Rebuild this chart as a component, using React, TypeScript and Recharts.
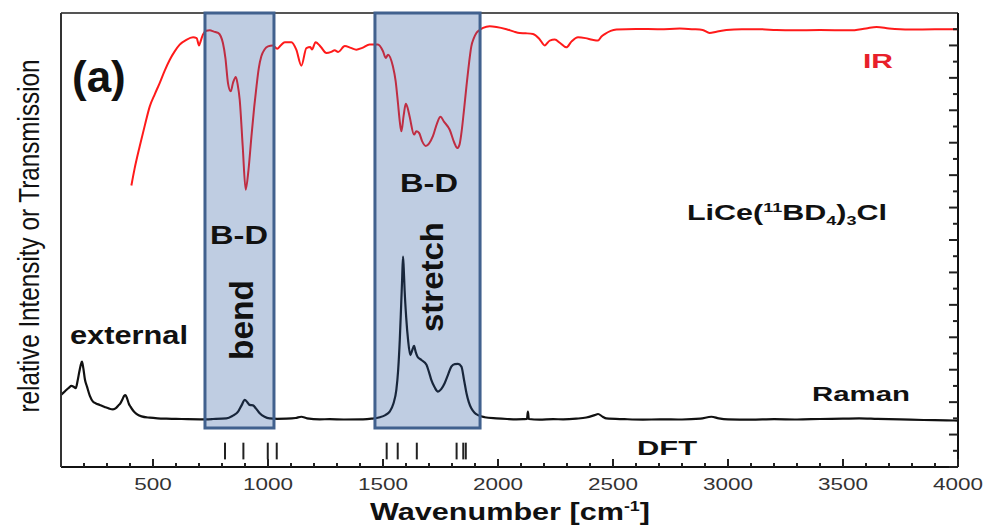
import React from 'react';
import { LineChart, Line, XAxis, YAxis, ReferenceArea, ReferenceLine } from 'recharts';

// IR transmission (red), wavenumber in cm-1 and relative level
const irWave = [406, 420, 442, 465, 486, 508, 529, 551, 573, 595, 616, 645, 674, 690, 700, 708, 717, 732, 747, 765, 783, 795, 804, 815, 826, 838, 848, 860, 868, 877, 890, 903, 915, 928, 940, 950, 960, 971, 985, 1000, 1020, 1040, 1055, 1073, 1102, 1123, 1145, 1167, 1184, 1191, 1207, 1230, 1254, 1275, 1290, 1305, 1334, 1360, 1384, 1410, 1442, 1478, 1500, 1512, 1522, 1543, 1555, 1565, 1573, 1580, 1590, 1599, 1608, 1616, 1635, 1645, 1657, 1670, 1686, 1700, 1717, 1735, 1750, 1765, 1790, 1810, 1823, 1833, 1841, 1852, 1863, 1874, 1884, 1895, 1906, 1920, 1935, 1964, 1993, 2037, 2070, 2094, 2120, 2152, 2180, 2203, 2225, 2247, 2270, 2297, 2320, 2348, 2380, 2410, 2435, 2450, 2464, 2490, 2515, 2600, 2703, 2790, 2848, 2890, 2920, 2950, 2993, 3060, 3138, 3210, 3283, 3400, 3530, 3600, 3646, 3700, 3790, 3900, 4000];
const irValue = [17.36, 18.4, 19.77, 21.1, 22.24, 23.0, 23.68, 24.45, 25.12, 25.65, 26.05, 26.35, 26.5, 26.45, 26.0, 26.3, 26.67, 26.9, 26.93, 26.85, 26.77, 26.55, 26.15, 25.2, 23.68, 23.17, 23.7, 24.06, 23.6, 22.65, 19.8, 17.1, 18.3, 20.39, 22.2, 23.48, 24.6, 25.33, 25.75, 25.94, 26.0, 25.8, 26.0, 26.2, 26.2, 25.74, 24.75, 25.84, 25.9, 25.75, 26.2, 25.9, 25.53, 25.6, 25.7, 25.6, 25.96, 25.85, 25.74, 25.85, 26.05, 26.05, 25.64, 25.23, 25.43, 24.71, 23.8, 22.45, 21.3, 20.7, 21.7, 22.4, 22.1, 21.6, 20.5, 20.7, 20.6, 20.1, 19.8, 19.95, 20.4, 21.2, 21.6, 21.3, 20.8, 20.0, 19.67, 19.9, 20.6, 22.0, 23.5, 24.9, 25.94, 26.45, 26.77, 26.95, 27.08, 27.18, 27.14, 27.0, 26.85, 26.77, 26.75, 26.7, 26.4, 26.0, 26.3, 26.36, 26.15, 25.88, 26.25, 26.5, 26.45, 26.35, 26.3, 26.55, 26.7, 26.9, 26.98, 27.02, 27.0, 27.04, 27.0, 26.95, 26.77, 26.85, 26.95, 27.0, 27.0, 26.95, 26.93, 26.95, 26.93, 27.05, 27.14, 27.05, 26.98, 27.0, 27.0];

// Raman intensity (black)
const ramanWave = [100, 112, 123, 135, 145, 155, 164, 172, 180, 186, 191, 197, 204, 213, 225, 239, 252, 268, 290, 310, 326, 340, 350, 358, 368, 375, 380, 388, 395, 402, 415, 428, 450, 486, 520, 558, 600, 650, 703, 760, 819, 845, 870, 885, 899, 910, 920, 935, 948, 964, 985, 1007, 1040, 1080, 1120, 1145, 1170, 1225, 1268, 1330, 1413, 1450, 1486, 1510, 1529, 1545, 1558, 1566, 1573, 1579, 1583, 1587, 1590, 1594, 1601, 1609, 1619, 1627, 1635, 1642, 1650, 1667, 1689, 1700, 1710, 1725, 1739, 1753, 1768, 1783, 1797, 1812, 1826, 1841, 1852, 1863, 1873, 1884, 1898, 1913, 1942, 1993, 2040, 2080, 2110, 2126, 2130, 2134, 2180, 2240, 2283, 2340, 2384, 2420, 2435, 2455, 2471, 2550, 2630, 2703, 2800, 2880, 2928, 2960, 3000, 3100, 3200, 3300, 3400, 3500, 3570, 3650, 3750, 3850, 3950, 4000];
const ramanValue = [4.44, 4.6, 4.75, 4.9, 5.0, 4.95, 4.86, 5.3, 5.9, 6.3, 6.5, 6.1, 5.4, 4.96, 4.4, 4.03, 3.92, 3.83, 3.7, 3.6, 3.56, 3.65, 3.8, 3.93, 4.2, 4.4, 4.44, 4.2, 3.9, 3.72, 3.45, 3.27, 3.12, 3.04, 3.0, 2.98, 2.97, 2.95, 2.94, 2.96, 3.0, 3.15, 3.41, 3.8, 4.14, 4.0, 3.83, 3.8, 3.6, 3.31, 3.1, 3.0, 2.97, 2.98, 3.02, 3.1, 3.0, 2.94, 2.95, 2.93, 2.94, 2.98, 3.07, 3.2, 3.41, 3.9, 4.75, 6.0, 7.84, 10.0, 11.5, 12.98, 12.3, 10.9, 9.2, 7.84, 6.9, 7.2, 7.47, 7.1, 6.8, 6.6, 6.3, 5.85, 5.37, 4.9, 4.65, 4.8, 5.17, 5.7, 6.19, 6.35, 6.36, 6.19, 5.4, 4.55, 4.0, 3.62, 3.35, 3.2, 3.07, 3.0, 2.96, 2.94, 2.95, 2.96, 3.41, 2.96, 2.92, 2.95, 2.94, 2.98, 3.05, 3.2, 3.27, 3.1, 3.0, 2.95, 2.92, 2.94, 2.93, 2.98, 3.1, 3.0, 2.94, 2.92, 2.95, 2.93, 2.96, 2.98, 3.0, 2.97, 2.94, 2.9, 2.88, 2.86];

// calculated DFT mode positions
const dftModes = [813, 893, 999, 1038, 1516, 1564, 1647, 1820, 1849, 1860];

// shaded B-D regions
const bendBand = [726, 1026];
const stretchBand = [1465, 1922];

const xTicks = Array.from({ length: 39 }, (_, i) => 200 + i * 100);
const yTicks = Array.from({ length: 28 }, (_, i) => i);

const irData = irWave.map((w, i) => ({ w, v: irValue[i] }));
const ramanData = ramanWave.map((w, i) => ({ w, v: ramanValue[i] }));

const FONT = '"Liberation Sans", Arial, sans-serif';

const XTick = (props: any) => {
    const { x, y, payload } = props;
    const val = payload.value as number;
    const major = val % 500 === 0;
    return (
        <g>
            <line x1={x} x2={x} y1={y} y2={y - (major ? 8 : 4)} stroke="#222" strokeWidth={2} />
            {major && (
                <text
                    x={x}
                    y={y + 23}
                    textAnchor="middle"
                    fontSize={16}
                    fontFamily={FONT}
                    fill="#333"
                    textLength={String(val).length * 12.5}
                    lengthAdjust="spacingAndGlyphs"
                >
                    {val}
                </text>
            )}
        </g>
    );
};

const RightTick = (props: any) => {
    const { x, y, payload } = props;
    const len = payload.value % 2 === 0 ? 9 : 5;
    return <line x1={x} x2={x - len} y1={y} y2={y} stroke="#222" strokeWidth={2} />;
};

function Annotations() {
    const bold = { fontFamily: FONT, fontWeight: 700, fill: '#111' } as const;
    return (
        <svg width={989} height={527} style={{ position: 'absolute', left: 0, top: 0, pointerEvents: 'none' }}>
            <text
                transform="translate(39,236) rotate(-90)"
                textAnchor="middle"
                fontSize={29}
                fontFamily={FONT}
                fill="#111"
                textLength={353}
                lengthAdjust="spacingAndGlyphs"
            >
                relative Intensity or Transmission
            </text>
            <text x={510} y={520} textAnchor="middle" fontSize={24} textLength={280} lengthAdjust="spacingAndGlyphs" {...bold}>
                Wavenumber [cm<tspan dy={-9} fontSize={14}>-1</tspan>
                <tspan dy={9}>]</tspan>
            </text>
            <text x={72} y={92} fontSize={44} {...bold}>(a)</text>
            <text x={239} y={244} textAnchor="middle" fontSize={26} textLength={58} lengthAdjust="spacingAndGlyphs" {...bold}>B-D</text>
            <text x={429} y={192} textAnchor="middle" fontSize={26} textLength={58} lengthAdjust="spacingAndGlyphs" {...bold}>B-D</text>
            <text transform="translate(253,320) rotate(-90)" textAnchor="middle" fontSize={34} textLength={80} lengthAdjust="spacingAndGlyphs" {...bold}>bend</text>
            <text transform="translate(443,277) rotate(-90)" textAnchor="middle" fontSize={32} textLength={110} lengthAdjust="spacingAndGlyphs" {...bold}>stretch</text>
            <text x={70} y={344} fontSize={25} textLength={118} lengthAdjust="spacingAndGlyphs" {...bold}>external</text>
            <text x={863} y={68} fontSize={21} textLength={30} lengthAdjust="spacingAndGlyphs" {...bold} fill="#e8202a">IR</text>
            <text x={687} y={220} fontSize={22} textLength={200} lengthAdjust="spacingAndGlyphs" {...bold}>
                LiCe(<tspan dy={-8} fontSize={13}>11</tspan>
                <tspan dy={8}>BD</tspan>
                <tspan dy={5} fontSize={13}>4</tspan>
                <tspan dy={-5}>)</tspan>
                <tspan dy={5} fontSize={13}>3</tspan>
                <tspan dy={-5}>Cl</tspan>
            </text>
            <text x={812} y={401} fontSize={20} textLength={98} lengthAdjust="spacingAndGlyphs" {...bold}>Raman</text>
            <text x={637} y={455} fontSize={21} textLength={60} lengthAdjust="spacingAndGlyphs" {...bold}>DFT</text>
        </svg>
    );
}

export default function App() {
    return (
        <div style={{ position: 'absolute', left: 0, top: 0, width: 989, height: 527, background: '#fff' }}>
            <LineChart width={989} height={527} margin={{ top: 12, right: 30, bottom: 59, left: 60 }}>
                <XAxis
                    xAxisId="bottom"
                    dataKey="w"
                    type="number"
                    domain={[100, 4000]}
                    ticks={xTicks}
                    interval={0}
                    height={1}
                    tickSize={0}
                    tickMargin={0}
                    tickLine={false}
                    tick={XTick}
                    axisLine={{ stroke: '#111', strokeWidth: 2 }}
                    allowDataOverflow
                />
                <XAxis
                    xAxisId="top"
                    orientation="top"
                    dataKey="w"
                    type="number"
                    domain={[100, 4000]}
                    height={1}
                    tick={false}
                    tickLine={false}
                    axisLine={{ stroke: '#555', strokeWidth: 2 }}
                />
                <YAxis
                    yAxisId="left"
                    type="number"
                    domain={[0, 28]}
                    width={1}
                    tick={false}
                    tickLine={false}
                    axisLine={{ stroke: '#333', strokeWidth: 2 }}
                />
                <YAxis
                    yAxisId="right"
                    orientation="right"
                    type="number"
                    domain={[0, 28]}
                    ticks={yTicks}
                    interval={0}
                    width={1}
                    tickSize={0}
                    tickMargin={0}
                    tickLine={false}
                    tick={RightTick}
                    axisLine={{ stroke: '#111', strokeWidth: 2 }}
                />
                <Line
                    data={irData}
                    xAxisId="bottom"
                    yAxisId="right"
                    dataKey="v"
                    type="monotone"
                    stroke="#ff1a1a"
                    strokeWidth={2}
                    dot={false}
                    isAnimationActive={false}
                />
                <Line
                    data={ramanData}
                    xAxisId="bottom"
                    yAxisId="right"
                    dataKey="v"
                    type="monotone"
                    stroke="#111"
                    strokeWidth={2.2}
                    dot={false}
                    isAnimationActive={false}
                />
                {dftModes.map((w) => (
                    <ReferenceLine
                        key={w}
                        xAxisId="bottom"
                        yAxisId="right"
                        segment={[{ x: w, y: 0.47 }, { x: w, y: 1.5 }]}
                        stroke="#222"
                        strokeWidth={2}
                    />
                ))}
                {[bendBand, stretchBand].map(([x1, x2]) => (
                    <ReferenceArea
                        key={x1}
                        xAxisId="bottom"
                        yAxisId="right"
                        x1={x1}
                        x2={x2}
                        y1={2.4}
                        y2={28}
                        fill="#2a5aa0"
                        fillOpacity={0.3}
                        stroke="#41618e"
                        strokeWidth={3}
                        zIndex={600}
                    />
                ))}
            </LineChart>
            <Annotations />
        </div>
    );
}
